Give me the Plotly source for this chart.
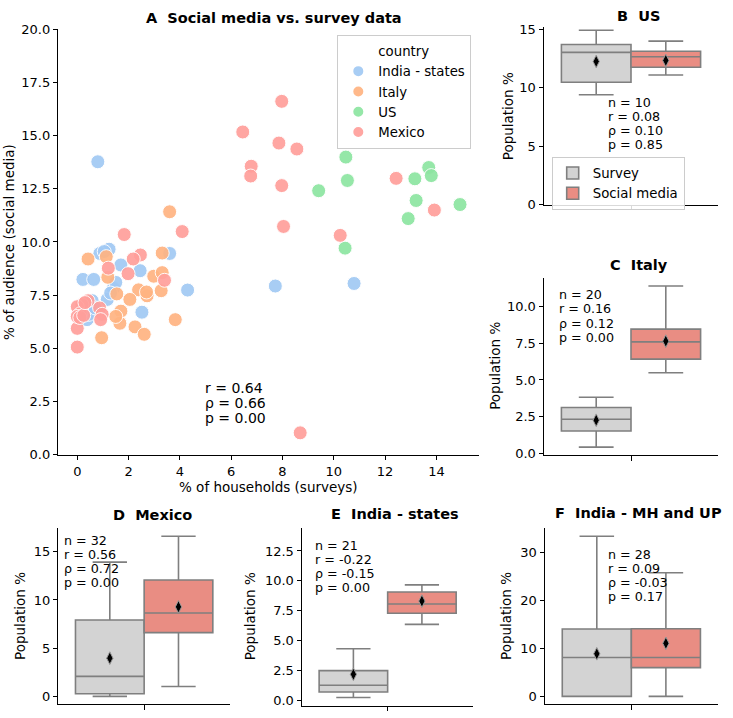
import numpy as np
import plotly.graph_objects as go

# ---------------- data ----------------
countries = ["India - states", "Italy", "US", "Mexico"]
colors = ["#a1c9f4", "#ffb482", "#8de5a1", "#ff9f9b"]

india_survey = [0.8, 7.72, 10.79, 1.24, 0.88, 3.6, 1.7, 2.45, 0.22, 0.64, 4.3,
                1.41, 1.17, 2.52, 0.58, 0.38, 1.05, 1.5, 0.45, 0.7, 1.3]
india_social = [13.77, 7.93, 8.05, 9.66, 9.46, 9.46, 8.92, 8.65, 8.24, 8.24, 7.74,
                7.82, 7.3, 6.7, 7.24, 6.35, 9.55, 8.1, 6.6, 6.9, 7.6]

italy_survey = [3.6, 0.42, 1.13, 3.31, 1.19, 2.98, 3.31, 1.54, 2.39, 2.72,
                3.27, 2.05, 1.7, 1.66, 2.25, 2.61, 3.82, 0.95, 2.7, 1.5]
italy_social = [11.42, 9.2, 9.31, 9.48, 8.34, 8.39, 8.56, 7.56, 7.75, 7.47,
                7.71, 7.3, 6.75, 6.18, 6.01, 5.66, 6.35, 5.5, 7.65, 6.5]

us_survey = [10.47, 10.53, 9.41, 13.7, 13.8, 13.16, 13.21, 14.92, 12.9, 10.44]
us_social = [13.99, 12.89, 12.41, 13.5, 13.12, 12.97, 11.95, 11.76, 11.1, 9.71]

mexico_survey = [6.45, 6.78, 6.76, 7.97, 7.86, 8.56, 7.97, 12.43, 13.92, 8.04, 10.25, 8.69,
                 4.09, 1.83, 2.46, 2.18, 1.21, 1.98, 3.4, 0.42, 0.18, 0.0, 0.12, 0.87,
                 0.97, 0.91, 0.0, 0.0, 0.0, 0.1, 0.25, 0.3]
mexico_social = [15.17, 13.56, 13.1, 16.61, 14.65, 14.37, 12.65, 12.99, 11.5, 10.73, 10.31, 1.03,
                 10.49, 10.35, 9.39, 9.2, 8.77, 8.51, 8.2, 7.24, 7.05, 6.96, 6.63, 6.9,
                 6.6, 6.35, 5.94, 5.06, 6.5, 6.45, 6.55, 7.15]

mhup_survey = [0, 0, 0, 0, 0, 0, 0, 0, 1.5, 3.0, 4.2, 5.5, 6.8, 7.9, 8.3,
               9.0, 10.2, 11.0, 12.1, 13.0, 13.8, 14.2, 15.0, 16.5, 18.0, 20.5, 24.0, 33.3]
mhup_social = [0, 2.5, 4.0, 5.0, 5.5, 5.8, 5.9, 6.05, 6.5, 6.9, 7.2, 7.5, 7.8, 8.0, 8.2,
               9.0, 10.0, 11.0, 12.0, 12.8, 13.8, 14.3, 16.0, 18.5, 21.0, 25.7, 28.0, 30.0]

stats_A = ["r = 0.64", "ρ = 0.66", "p = 0.00"]
stats_US = ["n = 10", "r = 0.08", "ρ = 0.10", "p = 0.85"]
stats_IT = ["n = 20", "r = 0.16", "ρ = 0.12", "p = 0.00"]
stats_MX = ["n = 32", "r = 0.56", "ρ = 0.72", "p = 0.00"]
stats_IN = ["n = 21", "r = -0.22", "ρ = -0.15", "p = 0.00"]
stats_MU = ["n = 28", "r = 0.09", "ρ = -0.03", "p = 0.17"]

# ---------------- layout helpers ----------------
W, H = 733, 718
FONT = "DejaVu Sans"
def fx(p): return p / W
def fy(p): return 1 - p / H

fig = go.Figure()

# ---- Panel A scatter ----
fig.add_trace(go.Scatter(x=[None], y=[None], mode="markers", name="country",
                         marker=dict(color="rgba(0,0,0,0)", size=1), legend="legend",
                         hoverinfo="skip"))
for name, col, xs, ys in zip(countries, colors,
                             [india_survey, italy_survey, us_survey, mexico_survey],
                             [india_social, italy_social, us_social, mexico_social]):
    fig.add_trace(go.Scatter(x=xs, y=ys, mode="markers", name=name, legend="legend",
                             marker=dict(color=col, size=14, opacity=0.92,
                                         line=dict(color="white", width=1)),
                             xaxis="x", yaxis="y"))

# ---- Box panels ----
SURV_COL = "#d3d3d3"
SOC_COL = "#e98d83"
LINE_COL = "#7f7f7f"
panels = [
    ("2", us_survey, us_social, True),
    ("3", italy_survey, italy_social, False),
    ("4", mexico_survey, mexico_social, False),
    ("5", india_survey, india_social, False),
    ("6", mhup_survey, mhup_social, False),
]
for ax, surv, soc, showleg in panels:
    for pos, data, col, nm in [(-0.2, surv, SURV_COL, "Survey"), (0.2, soc, SOC_COL, "Social media")]:
        fig.add_trace(go.Box(y=data, x0=pos, width=0.4, name=nm, fillcolor=col,
                             line=dict(color=LINE_COL, width=1.6), whiskerwidth=0.5,
                             quartilemethod="linear", boxpoints="outliers",
                             marker=dict(opacity=0, size=1),
                             showlegend=showleg, legend="legend2",
                             xaxis="x" + ax, yaxis="y" + ax, hoverinfo="skip"))
        fig.add_trace(go.Scatter(x=[pos], y=[float(np.mean(data))], mode="markers",
                                 marker=dict(symbol="diamond-tall", size=9, color="black",
                                             line=dict(color="#9a9a9a", width=1)),
                                 showlegend=False, xaxis="x" + ax, yaxis="y" + ax))

def axis(domain, rng, anchor, **kw):
    d = dict(domain=domain, range=rng, anchor=anchor, showline=True, linecolor="black",
             linewidth=1, ticks="outside", ticklen=4.5, tickwidth=1, tickcolor="black",
             showgrid=False, zeroline=False, mirror=False,
             tickfont=dict(size=13, color="black", family=FONT))
    d.update(kw)
    return d

boxx = dict(tickvals=[0], ticktext=[""])
layout = dict(
    width=W, height=H, margin=dict(l=0, r=0, t=0, b=0),
    paper_bgcolor="white", plot_bgcolor="white",
    font=dict(family=FONT, size=13, color="black"),
    xaxis=axis([fx(58.3), fx(479)], [-0.74, 15.66], "y", dtick=2, tick0=0),
    yaxis=axis([fy(457.3), fy(22.7)], [0, 20], "x", dtick=2.5, tick0=0, tickformat=".1f"),
    xaxis2=axis([fx(544), fx(718)], [-0.5, 0.5], "y2", **boxx),
    yaxis2=axis([fy(202), fy(20.4)], [0, 15.2], "x2", dtick=5, tick0=0),
    xaxis3=axis([fx(544), fx(718)], [-0.5, 0.5], "y3", **boxx),
    yaxis3=axis([fy(457.7), fy(276.7)], [-0.13, 11.97], "x3", dtick=2.5, tick0=0, tickformat=".1f"),
    xaxis4=axis([fx(58.3), fx(230)], [-0.5, 0.5], "y4", **boxx),
    yaxis4=axis([fy(712.3), fy(532.3)], [-0.83, 17.44], "x4", dtick=5, tick0=0),
    xaxis5=axis([fx(302), fx(473.3)], [-0.5, 0.5], "y5", **boxx),
    yaxis5=axis([fy(713.5), fy(531.7)], [-0.46, 14.46], "x5", dtick=2.5, tick0=0, tickformat=".1f"),
    xaxis6=axis([fx(545), fx(717.7)], [-0.5, 0.5], "y6", **boxx),
    yaxis6=axis([fy(712.3), fy(532.3)], [-1.67, 34.97], "x6", dtick=10, tick0=0),
    boxmode="overlay",
    showlegend=True,
    legend=dict(x=fx(337.3), y=fy(28.3), xanchor="left", yanchor="top",
                bordercolor="#cccccc", borderwidth=1, bgcolor="rgba(255,255,255,0.85)",
                font=dict(size=13.3, family=FONT), itemsizing="constant", tracegroupgap=0),
    legend2=dict(x=fx(551.7), y=fy(153), xanchor="left", yanchor="top",
                 bordercolor="#cccccc", borderwidth=1, bgcolor="rgba(255,255,255,0.85)",
                 font=dict(size=13.3, family=FONT)),
)
fig.update_layout(**layout)

ann = []
def txt(x, y, s, size=13, bold=False, xanchor="left", angle=0):
    ann.append(dict(x=fx(x), y=fy(y), xref="paper", yref="paper", text=("<b>%s</b>" % s) if bold else s,
                    showarrow=False, xanchor=xanchor, yanchor="middle", textangle=angle,
                    font=dict(size=size, family=FONT, color="black")))

NB = "\u00a0\u00a0"
# titles
txt(274, 11, "A" + NB + "Social media vs. survey data", 14.5, True, "center")
txt(638, 9, "B" + NB + "US", 14.5, True, "center")
txt(639, 263, "C" + NB + "Italy", 14.5, True, "center")
txt(152.7, 519, "D" + NB + "Mexico", 14.5, True, "center")
txt(394.7, 518, "E" + NB + "India - states", 14.5, True, "center")
txt(638.3, 517, "F" + NB + "India - MH and UP", 14.5, True, "center")
# axis titles
txt(268.5, 490, "% of households (surveys)", 13.5, False, "center")
txt(9, 240, "% of audience (social media)", 13.5, False, "center", -90)
for xc, yc in [(508.3, 111.3), (495, 366.5), (20.7, 622.3), (250, 622.3), (506.7, 622.3)]:
    txt(xc, yc, "Population %", 13.5, False, "center", -90)
# stats
for i, s in enumerate(stats_A):
    txt(203.3, 389 + 15.5 * i, s, 14)
for (x0, y0, step), lines in [((606, 97.3, 14.3), stats_US), ((557.3, 293.3, 14.8), stats_IT),
                              ((62, 545, 14.4), stats_MX), ((313.3, 550, 14.2), stats_IN),
                              ((606, 559, 14.2), stats_MU)]:
    for i, s in enumerate(lines):
        txt(x0, y0 + step * i, s, 12.7)
fig.update_layout(annotations=ann)

fig.write_html("out.html")
